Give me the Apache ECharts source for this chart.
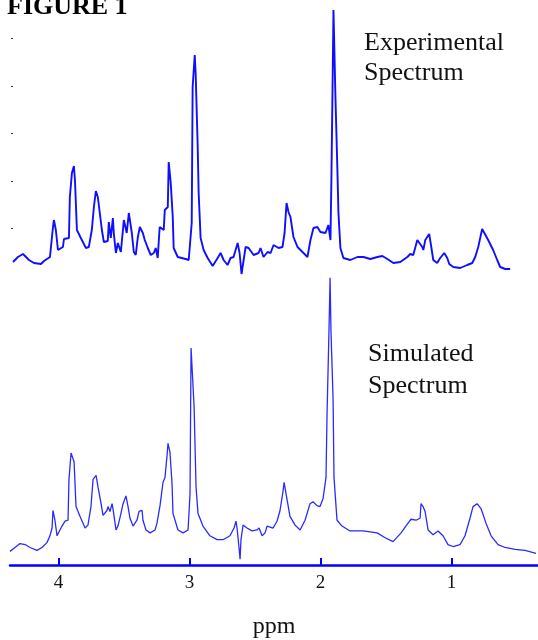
<!DOCTYPE html>
<html>
<head>
<meta charset="utf-8">
<script src="https://cdn.jsdelivr.net/npm/echarts@6/dist/echarts.min.js"></script>
<style>
  html, body { margin: 0; padding: 0; background: #fff; }
  #chart { width: 538px; height: 640px; }
</style>
</head>
<body>
<div id="chart"></div>
<script>
// chemical shift (ppm) and intensity (a.u.)
const expPpm = [4.355, 4.317, 4.278, 4.255, 4.233, 4.194, 4.141, 4.118, 4.072, 4.049, 4.042, 4.027, 4.011, 3.973, 3.965, 3.927, 3.920, 3.904, 3.889, 3.881,
  3.866, 3.836, 3.797, 3.775, 3.752, 3.736, 3.721, 3.706, 3.691, 3.675, 3.660, 3.630, 3.622, 3.607, 3.591, 3.584, 3.568, 3.553, 3.530, 3.507,
  3.485, 3.469, 3.446, 3.431, 3.416, 3.401, 3.385, 3.362, 3.347, 3.324, 3.301, 3.278, 3.263, 3.248, 3.233, 3.202, 3.194, 3.171, 3.164, 3.149,
  3.133, 3.126, 3.095, 3.034, 3.011, 2.988, 2.981, 2.965, 2.958, 2.943, 2.935, 2.920, 2.897, 2.866, 2.828, 2.790, 2.767, 2.744, 2.714, 2.691,
  2.668, 2.637, 2.622, 2.607, 2.576, 2.553, 2.515, 2.477, 2.462, 2.439, 2.408, 2.385, 2.362, 2.324, 2.294, 2.278, 2.263, 2.248, 2.233, 2.210,
  2.179, 2.141, 2.103, 2.080, 2.057, 2.027, 2.004, 1.965, 1.943, 1.927, 1.920, 1.912, 1.904, 1.897, 1.889, 1.874, 1.866, 1.851, 1.828, 1.775,
  1.721, 1.675, 1.622, 1.568, 1.530, 1.492, 1.446, 1.393, 1.339, 1.317, 1.294, 1.263, 1.225, 1.217, 1.202, 1.187, 1.172, 1.156, 1.141, 1.111,
  1.088, 1.057, 1.034, 1.019, 0.988, 0.935, 0.881, 0.843, 0.820, 0.797, 0.767, 0.752, 0.721, 0.683, 0.652, 0.629, 0.591, 0.553];
const expInt = [14, 19, 22, 19, 16, 13, 12, 15, 19, 49, 56, 46, 26, 29, 37, 38, 79, 103, 110, 96,
  46, 38, 28, 29, 46, 69, 85, 79, 63, 46, 34, 35, 54, 38, 58, 43, 23, 33, 24, 56,
  43, 63, 43, 24, 21, 38, 49, 43, 36, 28, 21, 23, 28, 18, 49, 46, 66, 69, 114, 94,
  59, 28, 19, 17, 16, 53, 189, 221, 203, 133, 83, 38, 26, 18, 10, 18, 23, 16, 11, 18,
  19, 33, 23, 2, 29, 28, 21, 23, 28, 19, 24, 23, 31, 28, 29, 43, 73, 64, 59, 39,
  29, 24, 19, 36, 48, 49, 44, 43, 51, 36, 96, 179, 266, 266, 179, 106, 63, 28, 18, 16,
  19, 19, 17, 19, 20, 17, 13, 14, 19, 22, 21, 36, 29, 26, 36, 34, 42, 29, 16, 13,
  18, 23, 18, 12, 9, 8, 11, 13, 19, 29, 47, 45, 36, 26, 16, 9, 7, 7];

const simPpm = [4.370, 4.332, 4.294, 4.255, 4.217, 4.164, 4.126, 4.088, 4.065, 4.049, 4.042, 4.027, 4.011, 3.996, 3.973, 3.950, 3.927, 3.920, 3.904, 3.889,
  3.881, 3.866, 3.836, 3.797, 3.775, 3.752, 3.736, 3.713, 3.698, 3.675, 3.660, 3.630, 3.622, 3.607, 3.591, 3.584, 3.561, 3.546, 3.523, 3.507,
  3.485, 3.469, 3.454, 3.431, 3.401, 3.385, 3.362, 3.355, 3.332, 3.301, 3.263, 3.248, 3.225, 3.202, 3.187, 3.171, 3.164, 3.149, 3.133, 3.126,
  3.088, 3.049, 3.011, 2.996, 2.988, 2.973, 2.965, 2.950, 2.935, 2.897, 2.844, 2.790, 2.744, 2.691, 2.660, 2.645, 2.637, 2.622, 2.614, 2.607,
  2.591, 2.561, 2.523, 2.485, 2.469, 2.446, 2.423, 2.408, 2.393, 2.362, 2.332, 2.309, 2.286, 2.278, 2.263, 2.255, 2.233, 2.194, 2.156, 2.118,
  2.080, 2.057, 2.027, 2.004, 1.981, 1.958, 1.950, 1.935, 1.927, 1.920, 1.904, 1.897, 1.874, 1.836, 1.775, 1.675, 1.568, 1.507, 1.446, 1.385,
  1.332, 1.309, 1.271, 1.240, 1.233, 1.217, 1.202, 1.179, 1.141, 1.103, 1.065, 1.027, 0.988, 0.935, 0.897, 0.859, 0.836, 0.805, 0.775, 0.737,
  0.698, 0.645, 0.591, 0.515, 0.439, 0.355];
const simInt = [14, 18, 22, 21, 18, 15, 18, 23, 30, 38, 56, 46, 30, 30, 40, 45, 46, 88, 115, 116,
  106, 60, 50, 38, 41, 60, 88, 92, 80, 63, 51, 56, 60, 55, 63, 58, 36, 40, 53, 63,
  71, 60, 48, 40, 46, 55, 56, 46, 36, 33, 36, 43, 61, 85, 90, 113, 125, 116, 83, 53,
  36, 33, 36, 73, 223, 225, 163, 80, 53, 40, 30, 26, 26, 30, 38, 45, 38, 18, 6, 26,
  41, 38, 35, 36, 38, 30, 33, 40, 41, 38, 45, 56, 76, 85, 73, 73, 50, 41, 36, 46,
  63, 65, 61, 60, 68, 90, 156, 243, 295, 240, 170, 90, 46, 40, 35, 35, 33, 28, 24, 33,
  43, 47, 46, 48, 63, 60, 55, 36, 31, 35, 30, 21, 19, 21, 30, 48, 60, 63, 58, 43,
  30, 21, 18, 16, 15, 12];

const ppmTicks = [1, 2, 3, 4];
const expTicks = [47.5, 95, 142.5, 190, 237.5];

const zip = (xs, ys) => xs.map((x, i) => [x, ys[i]]);

const chart = echarts.init(document.getElementById('chart'));
const serif = '"Liberation Serif", "DejaVu Serif", serif';

const option = {
  animation: false,
  backgroundColor: '#fff',
  grid: [
    { left: 11, right: 0, top: 6, bottom: 364 },
    { left: 10, right: 0, top: 273, bottom: 67 }
  ],
  xAxis: [
    { gridIndex: 0, type: 'value', min: 0.34, max: 4.37, inverse: true, show: false },
    {
      gridIndex: 1, type: 'value', min: 0.34, max: 4.37, inverse: true,
      splitLine: { show: false },
      axisLine: { lineStyle: { color: '#0000ff', width: 2.5 } },
      axisTick: { inside: true, length: 7, customValues: ppmTicks, lineStyle: { color: '#0000ff', width: 2 } },
      axisLabel: { customValues: ppmTicks, margin: 9, color: '#111', fontFamily: serif, fontSize: 19 },
      name: 'ppm', nameLocation: 'middle', nameGap: 50,
      nameTextStyle: { color: '#111', fontFamily: serif, fontSize: 24 }
    }
  ],
  yAxis: [
    {
      gridIndex: 0, type: 'value', min: 0, max: 270,
      axisLine: { show: false }, splitLine: { show: false }, axisLabel: { show: false },
      axisTick: { show: true, inside: true, length: 2, customValues: expTicks, lineStyle: { color: '#333', width: 1 } }
    },
    { gridIndex: 1, type: 'value', min: 0, max: 300, show: false, splitLine: { show: false } }
  ],
  series: [
    {
      name: 'Experimental', type: 'line', xAxisIndex: 0, yAxisIndex: 0,
      data: zip(expPpm, expInt), showSymbol: false,
      lineStyle: { color: '#0f0fff', width: 1.9 }
    },
    {
      name: 'Simulated', type: 'line', xAxisIndex: 1, yAxisIndex: 1,
      data: zip(simPpm, simInt), showSymbol: false,
      lineStyle: { color: '#2a2aff', width: 1.3 }
    }
  ],
  graphic: [
    { type: 'text', left: 7, top: -6, style: { text: 'FIGURE 1', font: 'bold 26px ' + serif, fill: '#000' } },
    { type: 'text', left: 364, top: 28, style: { text: 'Experimental\nSpectrum', font: '26px ' + serif, lineHeight: 30, fill: '#111' } },
    { type: 'text', left: 368, top: 338, style: { text: 'Simulated\nSpectrum', font: '26px ' + serif, lineHeight: 32, fill: '#111' } }
  ]
};

chart.setOption(option);
</script>
</body>
</html>
